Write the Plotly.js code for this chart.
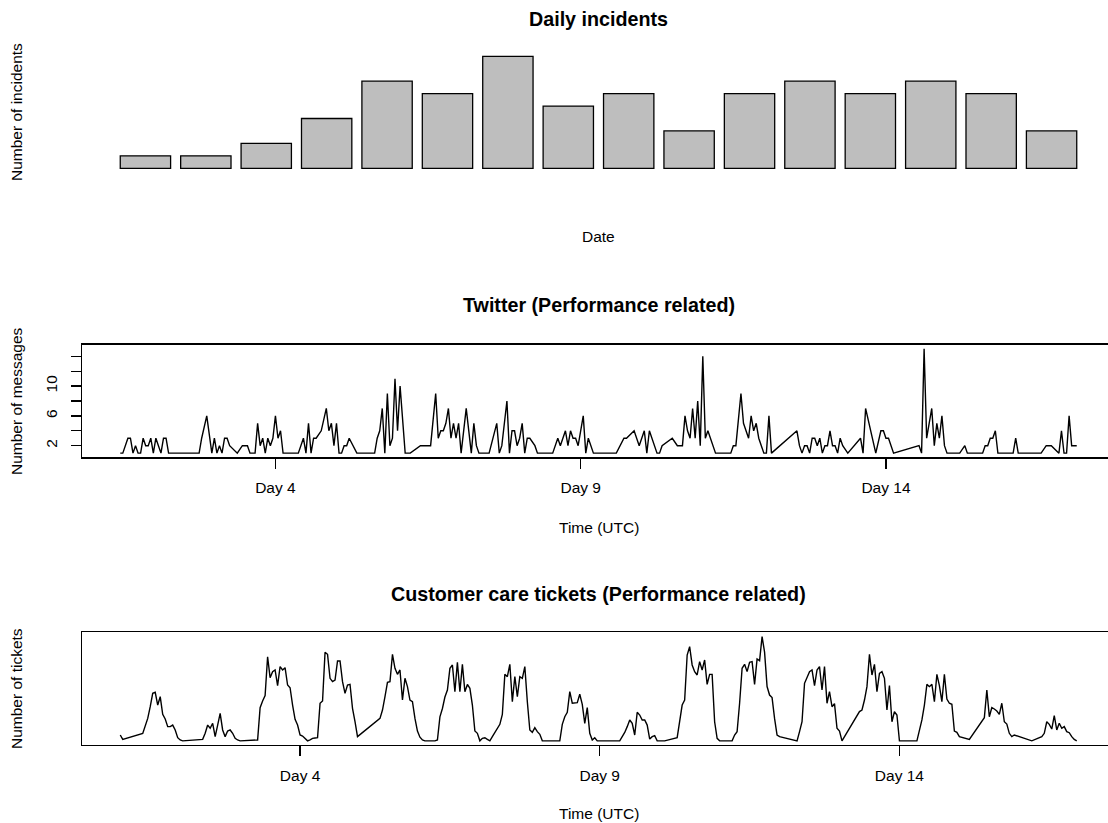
<!DOCTYPE html>
<html>
<head>
<meta charset="utf-8">
<script src="https://cdn.plot.ly/plotly-3.0.1.min.js"></script>
<style>
html, body { margin: 0; padding: 0; overflow: hidden; background: #ffffff; }
#chart { width: 1116px; height: 823px; }
</style>
</head>
<body>
<div id="chart"></div>
<script>
// ---------- DATA ----------
const incidentDays = ['1','2','3','4','5','6','7','8','9','10','11','12','13','14','15','16'];
const incidentCounts = [1, 1, 2, 4, 7, 6, 9, 5, 6, 3, 6, 7, 6, 7, 6, 3];

// Twitter: hour index (hours since Day 1 00:00) and message count
const twitterHour = [11,12,14,15,16,17,18,19,20,21,22,23,24,25,26,27,28,29,30,42,43,45,47,48,49,50,51,52,53,54,57,59,61,62,64,65,66,67,68,69,70,71,72,73,74,75,81,83,84,85,86,87,88,90,92,93,94,95,96,97,98,99,100,101,104,111,112,113,114,115,116,117,118,119,120,121,123,125,129,133,135,136,137,138,139,140,141,142,143,144,145,147,149,150,151,152,156,159,160,161,163,164,165,166,167,168,169,170,171,172,174,175,181,183,184,185,186,187,188,189,190,191,193,194,195,197,206,209,210,213,215,217,218,219,220,222,223,224,228,230,232,233,234,235,236,237,238,239,240,241,242,245,251,252,253,255,256,257,258,259,260,261,262,263,264,265,266,267,277,278,279,280,281,282,283,284,285,286,287,288,289,290,291,292,293,294,295,297,302,303,304,308,310,311,312,313,315,325,326,327,328,330,331,332,333,334,335,336,341,343,344,350,351,352,353,354,355,356,362,363,364,373,375,377,380,381,382,383,384,385,387];
const twitterCount = [1,1,3,3,1,2,1,1,3,2,2,3,1,3,2,1,3,3,1,1,3,6,1,3,1,2,1,3,3,2,1,2,2,1,1,5,2,3,1,3,2,3,6,3,4,1,1,3,1,5,1,3,3,4,7,4,5,2,5,1,1,2,2,3,1,1,3,4,7,1,9,2,3,11,4,10,1,1,2,2,9,3,4,4,5,7,3,5,3,5,1,7,1,5,2,1,1,5,1,2,8,1,4,4,2,3,5,1,3,3,2,1,1,3,2,3,4,2,4,3,3,2,6,1,3,1,1,3,3,4,2,4,1,4,3,1,1,2,3,2,2,6,4,3,7,3,8,2,14,3,4,1,1,2,2,9,5,4,3,6,4,5,3,2,1,1,6,1,4,2,1,2,2,1,3,3,2,3,1,2,2,4,2,2,1,3,2,1,3,1,7,1,4,4,3,3,1,2,1,15,3,7,2,5,3,6,2,1,1,2,1,1,2,2,3,3,4,1,1,3,1,1,2,2,1,4,1,1,6,2,2];

// Customer care tickets: hour index and relative ticket volume (unlabelled axis)
const careHour = [0,1,9,10,11,12,13,14,15,16,17,18,19,20,21,22,23,24,25,33,34,35,36,37,38,39,40,41,42,43,44,45,46,47,48,55,56,57,58,59,60,61,62,63,64,65,66,67,68,69,70,71,72,73,74,75,76,77,78,79,80,81,82,83,84,85,86,87,88,89,90,91,92,93,94,95,104,105,106,107,108,109,110,111,112,113,114,115,116,117,118,119,120,121,122,126,127,128,129,130,131,132,133,134,135,136,137,138,139,140,141,142,143,144,145,146,147,148,149,150,151,152,153,154,155,156,157,158,159,160,161,162,163,164,165,166,167,168,169,176,177,178,179,180,181,182,183,184,185,186,187,188,189,190,191,200,201,202,203,204,205,206,207,208,209,210,211,212,213,214,215,218,223,224,225,226,227,228,229,230,231,232,233,234,235,236,237,238,239,240,245,246,247,248,249,250,251,252,253,254,255,256,257,258,259,260,261,262,263,264,271,272,273,274,275,276,277,278,279,280,281,282,283,284,285,286,287,288,289,296,297,298,299,300,301,302,303,304,305,306,307,308,309,310,311,312,319,320,321,322,323,324,325,326,327,328,329,330,331,332,333,334,335,336,340,346,347,348,349,350,351,352,353,354,355,356,357,358,365,369,370,371,372,373,374,375,376,377,378,379,380,381,382,383];
const careLevel = [5.6,1.4,7,13.6,21.5,32.7,45.5,46.5,34.3,42.3,25.4,20.9,13.6,13.6,15.1,10.4,3,0.8,0,1.4,7.2,15.1,12,16.8,4,15.1,26.3,10.4,4,9.4,10.4,7.2,2.4,0.8,0,0.8,31.8,38.2,43.3,80.6,60.5,66.3,67.9,52.9,71.1,67.9,70.1,53.5,50.9,34.3,20.6,15.1,5.6,4.6,2.4,0,1,2.4,2.7,3,35.9,38.2,84.8,82.9,59.9,56.7,58.3,76.5,76.5,56.7,45.5,53.5,54.1,31.1,18.3,4,21.5,29.5,42.3,56,56.7,82.9,69.5,63.7,67.9,39.1,59.9,51.9,39.1,37.5,21.5,9.4,3.5,0.8,0,0,0.8,23,31,42,48.7,69.5,72.7,47,75.2,47,73.3,47,54,50.3,34.3,9.4,7.2,0,2.4,3,1.4,0,4,8,12,15.8,25.4,63.7,61.5,73.3,37.5,61.5,42.3,61.5,59.9,71.1,37.5,10.4,8.1,12.6,8.8,6.2,0,0,15.8,23.1,27.3,47.1,36,36,36.6,44.6,35,16.8,31.8,7.2,0.8,3,0,0,4,8,13.6,20,16.8,5.6,27.3,24.7,20,20,15.1,1.7,4,4.9,0,0,3,18.3,34.3,39.1,82.2,90.2,72.7,66.3,63.1,75.9,67.9,77.5,54.1,63.7,63.7,18.3,2.4,0,0,5.6,8.8,36,69.5,73.3,66.3,75.2,75.9,54.1,78.4,76.8,99.8,85,52,43.9,41.4,21.5,5.6,4,0,8.8,18.3,55.1,59.9,66.3,67.9,52.9,67.9,71.1,48.7,71.1,36,47.1,32.7,35.6,12,9.4,0,28,29.5,39.1,51.9,82.9,63.1,73.3,47.1,64.7,66.3,59.9,29.5,52.9,18.3,27.9,24.7,0,0,9.4,20,34.3,54.1,51.9,54.1,37.5,63.7,52.9,37.5,63.7,40,36,35,9.4,8.1,4,1.4,22.2,48.7,23.1,31.8,30.5,28.6,25.4,36,18.3,16.1,7.2,4,5.6,0,4,7.2,18.3,15.8,11.3,24.1,10.4,16.8,12,13.6,8.8,7.8,4,1.4,0];

const dayTickHours = [72, 192, 312];
const dayTickLabels = ['Day 4', 'Day 9', 'Day 14'];
const msgTickVals = [2, 4, 6, 8, 10, 12, 14];
const msgTickLabels = ['2', '', '6', '', '10', '', ''];

// ---------- CHART ----------
const FONT = 'Liberation Sans, Arial, Helvetica, sans-serif';
const H = 823;
const py = p => 1 - p / H;          // pixel row -> paper y
const px = p => (p - 82) / 1033;    // pixel column -> paper x

const traces = [
  {
    type: 'bar', x: incidentDays, y: incidentCounts,
    xaxis: 'x', yaxis: 'y',
    marker: { color: '#bebebe', line: { color: '#000000', width: 1.3 } },
    hoverinfo: 'skip'
  },
  {
    type: 'scatter', mode: 'lines', x: twitterHour, y: twitterCount,
    xaxis: 'x2', yaxis: 'y2',
    line: { color: '#000000', width: 1.4 }, hoverinfo: 'skip'
  },
  {
    type: 'scatter', mode: 'lines', x: careHour, y: careLevel,
    xaxis: 'x3', yaxis: 'y3',
    line: { color: '#000000', width: 1.4 }, hoverinfo: 'skip'
  }
];

const frameAxis = {
  showline: true, mirror: true, linecolor: '#000000', linewidth: 1.4,
  showgrid: false, zeroline: false
};
const dayAxis = Object.assign({}, frameAxis, {
  tickmode: 'array', tickvals: dayTickHours, ticktext: dayTickLabels,
  ticks: 'outside', ticklen: 10, tickwidth: 1.4, tickcolor: '#000000',
  ticklabelstandoff: 6,
  tickfont: { family: FONT, size: 15.5, color: '#000000' }
});

const layout = {
  width: 1116, height: 823,
  margin: { l: 82, r: 1, t: 0, b: 0, pad: 0 },
  paper_bgcolor: '#ffffff', plot_bgcolor: '#ffffff',
  showlegend: false,
  bargap: 0.2 / 1.2,
  font: { family: FONT, color: '#000000' },
  xaxis: { type: 'category', domain: [0, 1], range: [-1.05, 16.05], visible: false, anchor: 'y' },
  yaxis: { domain: [py(172.8), py(51.8)], range: [-0.36, 9.36], visible: false, anchor: 'x' },
  xaxis2: Object.assign({}, dayAxis, { domain: [0, 1], range: [-4.04, 402.04], anchor: 'y2' }),
  yaxis2: Object.assign({}, frameAxis, {
    domain: [py(457.3), py(344.7)], range: [0.44, 15.56], anchor: 'x2',
    tickmode: 'array', tickvals: msgTickVals, ticktext: msgTickLabels,
    ticks: 'outside', ticklen: 10, tickwidth: 1.4, tickcolor: '#000000',
    tickangle: -90, ticklabelstandoff: 7,
    tickfont: { family: FONT, size: 15.5, color: '#000000' }
  }),
  xaxis3: Object.assign({}, dayAxis, { domain: [0, 1], range: [-15.32, 398.32], anchor: 'y3' }),
  yaxis3: Object.assign({}, frameAxis, {
    domain: [py(745), py(632.3)], range: [-4, 104], anchor: 'x3',
    ticks: '', showticklabels: false
  }),
  annotations: [
    { text: '<b>Daily incidents</b>', x: 0.5, y: py(19), font: { size: 19.7, family: FONT } },
    { text: 'Date', x: 0.5, y: py(237), font: { size: 15.5, family: FONT } },
    { text: 'Number of incidents', x: px(16), y: py(112), textangle: -90, font: { size: 15.5, family: FONT } },
    { text: '<b>Twitter (Performance related)</b>', x: 0.5, y: py(305), font: { size: 19.7, family: FONT } },
    { text: 'Time (UTC)', x: 0.5, y: py(527), font: { size: 15.5, family: FONT } },
    { text: 'Number of messages', x: px(16), y: py(401), textangle: -90, font: { size: 15.5, family: FONT } },
    { text: '<b>Customer care tickets (Performance related)</b>', x: 0.5, y: py(594), font: { size: 19.7, family: FONT } },
    { text: 'Time (UTC)', x: 0.5, y: py(813), font: { size: 15.5, family: FONT } },
    { text: 'Number of tickets', x: px(16), y: py(689), textangle: -90, font: { size: 15.5, family: FONT } }
  ].map(a => Object.assign({
    xref: 'paper', yref: 'paper', showarrow: false,
    xanchor: 'center', yanchor: 'middle'
  }, a, { font: Object.assign({ color: '#000000' }, a.font) }))
};

Plotly.newPlot('chart', traces, layout, { staticPlot: true, displayModeBar: false });
</script>
</body>
</html>
